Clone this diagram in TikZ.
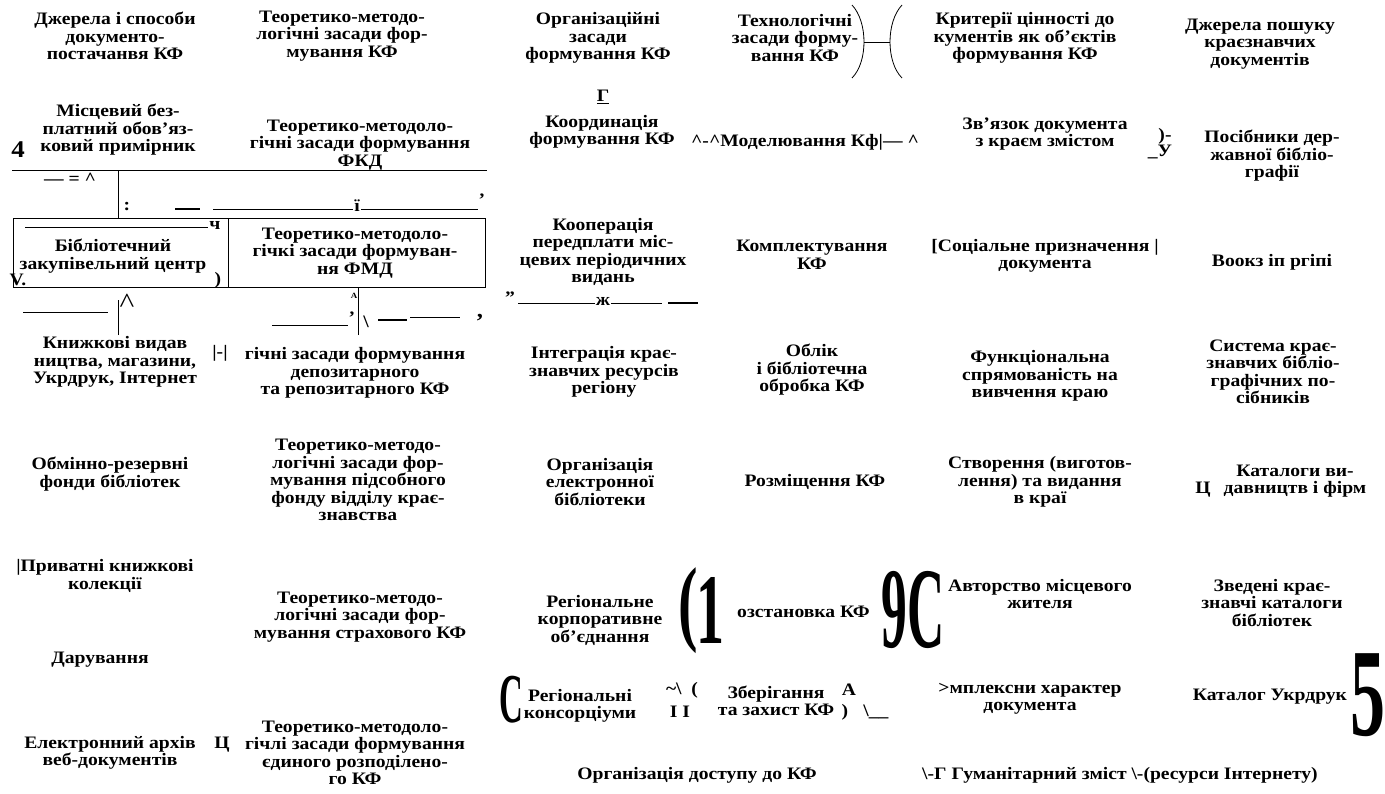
\documentclass[tikz,border=0pt]{standalone}
\usepackage{fontspec}
\setmainfont{Liberation Serif}[FakeStretch=1.12]
\usetikzlibrary{positioning}

\newcommand{\kf}{\fontsize{17.5}{17.5}\selectfont\bfseries}
\newcommand{\narrowglyph}[3]{\scalebox{#1}[1]{\fontsize{#2}{#2}\selectfont #3}}

\begin{document}
\begin{tikzpicture}[
    x=1pt, y=-1pt,
    txt/.style={align=center, font=\kf, inner sep=0pt},
    frame/.style={draw, line width=0.8pt, minimum height=69pt, inner sep=0pt},
    conn/.style={line width=0.8pt},
    dash line/.style={line width=1.6pt}
  ]
  \useasboundingbox (0,0) rectangle (1385,793);

  \node[txt] (src) at (115,36) {Джерела і способи\\документо-\\постачанвя КФ};
  \node[txt] (tkf) at (342,36) {Теоретико-методо-\\логічні засади фор-\\мування КФ};
  \node[txt] (org) at (598,38) {Організаційні\\засади\\формування КФ};
  \node[txt] (tech) at (795,38) {Технологічні\\засади форму-\\вання КФ};
  \node[txt] (crit) at (1025,38) {Критерії цінності до\\кументів як об'єктів\\формування КФ};
  \node[txt] (search) at (1260,44) {Джерела пошуку\\краєзнавчих\\документів};

  \coordinate (br1) at (864,42);
  \coordinate (br2) at (890,42);
  \draw[conn] (852,5) .. controls (868,22) and (868,62) .. (852,78);
  \draw[conn] (902,5) .. controls (886,22) and (886,62) .. (902,78);
  \draw[conn] (br1) -- (br2);

  \node[txt] (free) at (118,130) {Місцевий без-\\платний обов'яз-\\ковий примірник};
  \node[txt, font=\fontsize{24}{24}\selectfont\bfseries] (four) at (18,150) {4};
  \node[txt] (fkd) at (360,145) {Теоретико-методоло-\\гічні засади формування\\ФКД};
  \node[txt] (gam) at (603,97) {\underline{Г}};
  \node[txt] (coord) at (602,132) {Координація\\формування КФ};
  \node[txt] (model) at (805,142) {\textasciicircum-\textasciicircum Моделювання Кф|— \textasciicircum};
  \node[txt] (link) at (1045,134) {Зв'язок документа\\з краєм змістом};
  \node[txt] (par1) at (1165,136) {)-};
  \node[txt] (ulet) at (1160,152) {\_У};
  \node[txt] (state) at (1272,156) {Посібники дер-\\жавної бібліо-\\графії};

  \coordinate (hl-w) at (12,170);
  \coordinate (hl-e) at (487,170);
  \draw[conn] (hl-w) -- (hl-e);
  \node[txt] (eq) at (70,179) {— = \textasciicircum};
  \coordinate (v1) at (118,170);

  \node[txt] (colon) at (127,207) {:};
  \draw[dash line] (175,209) -- (200,209);
  \coordinate (tl-w) at (213,209);
  \coordinate (tl-e) at (478,209);
  \draw[conn] (tl-w) -- (tl-e);
  \node[txt, fill=white, inner sep=1pt] (yi) at (357,206) {ї};
  \node[txt] (apo) at (482,200) {'};

  \node[frame, minimum width=215pt] (zkc) at (120.5,252.5) {};
  \node[frame, minimum width=257pt] (fmd) at (356.5,252.5) {};
  \draw[conn] (v1) -- (v1 |- zkc.north);
  \draw[conn] (25,227) -- (208,227);
  \node[txt] (che) at (215,225) {ч};
  \node[txt] (zkct) at (113,256) {Бібліотечний\\закупівельний центр};
  \node[txt] (vdot) at (18,280) {V.};
  \node[txt] (rpar) at (218,280) {)};
  \node[txt] (fmdt) at (355,253) {Теоретико-методоло-\\гічкі засади формуван-\\ня ФМД};

  \node[txt, font=\fontsize{28}{28}\selectfont] (cap) at (127,303) {\textasciicircum};
  \coordinate (v2) at (118,335);
  \draw[conn] (v2) -- (118,300);
  \draw[conn] (23,312) -- (108,312);
  \node[txt, font=\fontsize{8}{8}\selectfont\bfseries] (smalla) at (354,296) {A};
  \coordinate (v3) at (358,335);
  \draw[conn] (v3) -- (v3 |- fmd.south);
  \draw[conn] (272,325) -- (348,325);
  \node[txt] (apo2) at (352,318) {'};
  \node[txt] (bsl) at (366,322) {\textbackslash};
  \draw[dash line] (378,320) -- (407,320);
  \draw[conn] (410,317) -- (460,317);
  \node[txt, font=\fontsize{22}{22}\selectfont\bfseries] (comma) at (480,318) {,};

  \node[txt] (coop) at (603,252) {Кооперація\\передплати міс-\\цевих періодичних\\видань};
  \node[txt] (compl) at (812,255) {Комплектування\\КФ};
  \node[txt] (social) at (1045,256) {[Соціальне призначення |\\документа};
  \node[txt] (bip) at (1272,262) {Воокз іп ргіпі};

  \node[txt] (quot) at (510,298) {"};
  \coordinate (zl-w) at (518,303);
  \coordinate (zl-e) at (662,303);
  \draw[conn] (zl-w) -- (zl-e);
  \node[txt, fill=white, inner sep=1pt] (zhe) at (603,301) {ж};
  \draw[dash line] (668,303) -- (698,303);

  \node[txt] (books) at (115,362) {Книжкові видав\\ництва, магазини,\\Укрдрук, Інтернет};
  \node[txt] (bar) at (220,353) {|-|};
  \node[txt] (depo) at (355,373) {гічні засади формування\\депозитарного\\та репозитарного КФ};
  \node[txt] (integr) at (604,372) {Інтеграція крає-\\знавчих ресурсів\\регіону};
  \node[txt] (acc) at (812,370) {Облік\\і бібліотечна\\обробка КФ};
  \node[txt] (func) at (1040,376) {Функціональна\\спрямованість на\\вивчення краю};
  \node[txt] (system) at (1273,372) {Система крає-\\знавчих бібліо-\\графічних по-\\сібників};

  \node[txt] (exch) at (110,474) {Обмінно-резервні\\фонди бібліотек};
  \node[txt] (aux) at (358,480) {Теоретико-методо-\\логічні засади фор-\\мування підсобного\\фонду відділу крає-\\знавства};
  \node[txt] (elib) at (600,482) {Організація\\електронної\\бібліотеки};
  \node[txt] (place) at (815,482) {Розміщення КФ};
  \node[txt] (create) at (1040,482) {Створення (виготов-\\лення) та видання\\в краї};
  \node[txt] (tse1) at (1203,490) {Ц};
  \node[txt] (publ) at (1295,481) {Каталоги ви-\\давництв і фірм};

  \node[txt] (priv) at (105,576) {|Приватні книжкові\\колекції};
  \node[txt] (ins) at (360,617) {Теоретико-методо-\\логічні засади фор-\\мування страхового КФ};
  \node[txt] (gift) at (100,660) {Дарування};
  \node[txt] (corp) at (600,620) {Регіональне\\корпоративне\\об'єднання};
  \node[txt] (lpar) at (688,611) {\narrowglyph{0.55}{95}{(}};
  \node[txt] (one) at (710,610) {\narrowglyph{0.5}{100}{1}};
  \node[txt, anchor=west] (shelf) at (737,612) {озстановка КФ};
  \node[txt] (ninec) at (913,610) {\narrowglyph{0.4}{115}{9C}};
  \node[txt] (author) at (1040,594) {Авторство місцевого\\жителя};
  \node[txt] (union) at (1272,603) {Зведені крає-\\знавчі каталоги\\бібліотек};

  \node[txt] (bigc) at (511,700) {\narrowglyph{0.42}{70}{C}};
  \node[txt] (cons) at (580,706) {Регіональні\\консорціуми};
  \node[txt] (tild) at (682,690) {\textasciitilde\textbackslash\ \ (};
  \node[txt] (ii) at (680,712) {I I};
  \node[txt] (store) at (776,701) {Зберігання\\та захист КФ};
  \node[txt] (bigA) at (849,690) {A};
  \node[txt] (rp2) at (845,712) {)};
  \node[txt] (bsl2) at (876,712) {\textbackslash\_\_};
  \node[txt] (compx) at (1030,699) {>мплексни характер\\документа};
  \node[txt] (ukrd) at (1270,697) {Каталог Укрдрук};
  \node[txt] (five) at (1368,695) {\narrowglyph{0.5}{125}{5}};

  \node[txt] (arch) at (110,753) {Електронний архів\\веб-документів};
  \node[txt] (tse2) at (222,745) {Ц};
  \node[txt] (distr) at (355,753) {Теоретико-методоло-\\гічлі засади формування\\єдиного розподілено-\\го КФ};
  \node[txt] (access) at (697,775) {Організація доступу до КФ};
  \node[txt] (human) at (1120,775) {\textbackslash-Г Гуманітарний зміст \textbackslash-(ресурси Інтернету)};
\end{tikzpicture}
\end{document}
